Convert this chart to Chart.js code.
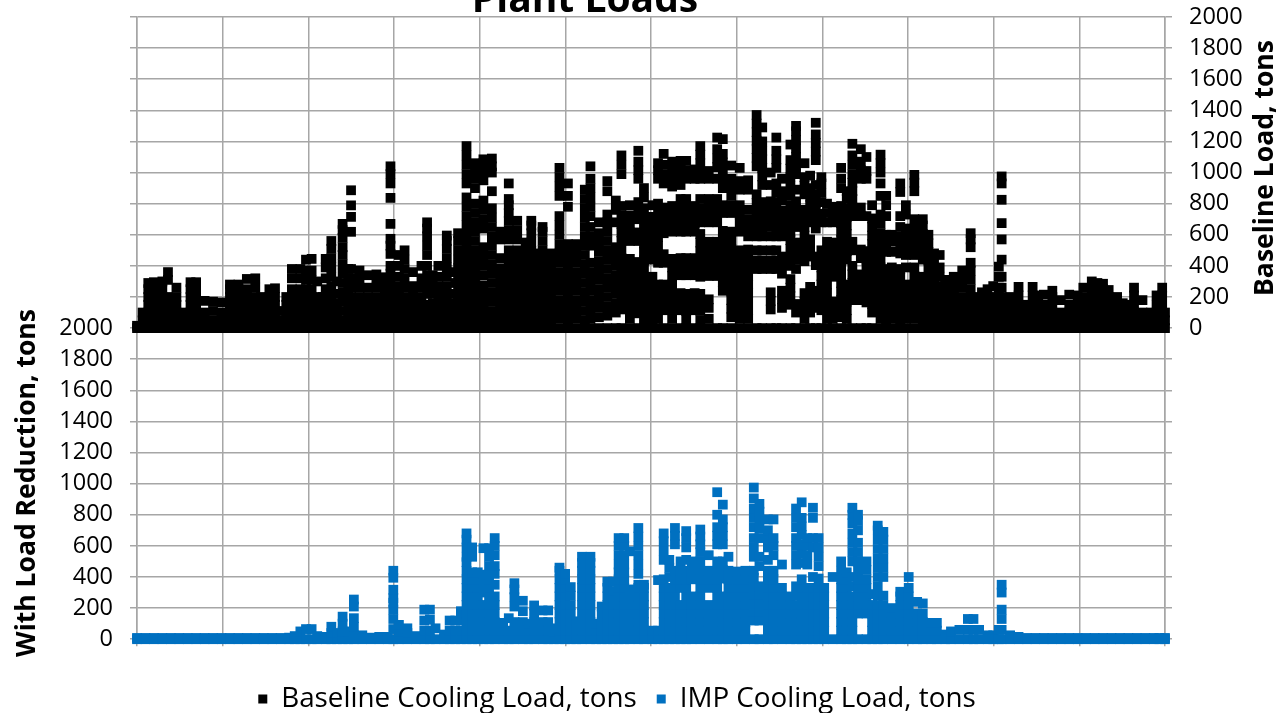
<!DOCTYPE html>
<html>
<head>
<meta charset="utf-8">
<title>Plant Loads</title>
<script src="https://cdn.jsdelivr.net/npm/chart.js@4"></script>
<style>
    html, body { margin: 0; padding: 0; background: #fff; overflow: hidden; }
    canvas { display: block; }
</style>
</head>
<body>
<canvas id="plantChart" width="1278" height="713"></canvas>
<script>
// every row is [day of year, load, load, ...]
const baselineLoads = [
[0,0,15],[2,0,50,100],[4,0,50,100,150,200,250,290],[6,0,50,100,150,200,250,295],[9,0,50,100,150,200,250,300],
[11,0,50,100,150,200,310,360],[14,0,50,100,150,200,260],[16,0,50,100],[19,0,50,100,150,200,250,295],[21,0,50,100,150,200,250,295],
[24,0,50,100,175],[27,0,50,110,170],[30,0,50,100,165],[33,0,50,100,150,200,250,280],[36,0,50,100,150,200,250,280],
[39,0,50,100,150,200,250,316],[42,0,50,100,150,200,260,320],[44,0,50,100,150,200],[47,0,50,100,150,200,250],[49,0,50,100,150,200,256],
[51,0,50,110],[53,0,50,100,150,200],[55,0,50,100,150,200,250,320,380],[58,0,50,100,150,200,250,320,380],[60,0,50,100,150,200,250,310,370,440],
[62,0,50,100,150,200,250,310,370,445],[64,0,50,100,150,200,300],[66,0,50,100,150,200],[67,0,50,100,150,200,250,320,390,445],[69,0,50,100,150,210,270,330,390,450,510,560],
[71,0,50,100,160,220,300],[73,0,50,110,170,230,290,350,410,470,520,580,630,670],[75,0,50,100,150,200,260,320,380],[76,0,50,100,150,200,260,320,380,619,715,789,886],
[79,0,50,100,150,200,260,320,370],[82,0,50,100,150,200,260,340],[85,0,50,100,150,200,260,320,345],[88,0,50,100,150,210,270,327],
[90,0,50,100,150,200,250,300,350,400,477,530,574,670,837,930,990,1040],[93,0,50,100,150,210,270,330,400,470],[95,0,50,100,150,200,260,320,380,440,500],[98,0,50,100,150,210,270,360],
[101,0,50,100,150,200,260,320,400],[103,0,50,100,150,220,280,340,400,470,530,590,640,680],[105,0,50,100,160,220,280,340],[107,0,50,100,150,210,270,330,400],
[110,0,50,100,150,210,270,330,390,450,510,560,595],[113,0,50,100,160,220,290,360],[114,0,55,110,165,220,275,330,385,440,500,560,610],
[117,0,55,110,165,220,275,330,385,440,495,550,600,660,720,780,840,930,990,1050,1110,1170],[120,0,55,110,165,220,275,330,385,440,500,560,620,680,740,800,900,960,1010,1060],
[123,0,55,110,165,220,275,340,400,460,520,640,700,760,820,950,1000,1060,1085],[126,0,55,110,170,230,290,350,410,470,530,590,650,710,770,880,1000,1040,1090],
[129,0,55,110,165,220,275,330,385,450,570,620],[132,0,55,110,165,220,275,330,385,440,500,570,630,690,740,790,830,930],[135,0,55,110,165,220,275,330,385,440,500,570,630,690],
[138,0,55,110,165,220,275,330,385,440,495,550],[140,0,55,110,165,220,275,330,385,440,495,550,610,660,690],[142,0,55,110,165,220,275,330,385,440,480],[144,0,55,110,165,220,275,330,385,440,500,560,620,650],
[147,0,55,110,165,220,275,330,385,440,480],[150,0,60,120,180,240,300,360,420,480,540,600,660,720,850,910,970,1030],[153,0,55,110,165,220,275,330,385,440,480,540,780,850,930],
[156,0,60,120,180,240,300,360,420,480,540],[159,0,50,110,170,230,290,350,410,470,530,590,650,710,770,830,890],[161,0,60,120,180,240,300,360,420,530,590,650,720,780,840,900,960,1040],
[164,0,70,130,190,250,310,370,430,490,550,610,680],[167,0,80,140,200,260,320,380,440,500,560,620,680,730,880,945],[170,0,100,160,220,280,340,400,460,520,680,760,820],
[172,0,120,175,230,285,340,395,450,505,560,615,670,725,785,990,1050,1110],[175,0,60,115,170,225,280,335,390,445,560,615,670,725,790],
[178,0,95,150,205,260,315,370,425,560,615,700,755,810,960,1015,1070,1140],[180,0,50,105,160,215,270,325,380,435,490,545,600,655,710,770,840,900],
[183,0,55,110,165,220,275,330,440,495,550,605,660,715,790],[185,0,60,115,170,225,280,420,475,530,585,640,695,750,800,960,1015,1060],
[187,0,115,170,225,280,420,475,610,665,720,775,930,990,1050,1120],[190,0,60,115,170,225,280,335,390,445,620,675,730,785,910,965,1020,1070],
[193,0,115,170,225,340,395,450,620,675,730,785,830,920,975,1030,1075],[195,0,55,110,165,220,340,395,450,620,675,730,775,830,960,1015,1075],
[198,0,115,170,225,340,395,450,620,675,730,785,960,1020],[200,0,50,110,165,220,330,385,440,495,550,605,680,715,770,830,960,1005,1060,1115,1170],
[203,0,60,130,185,335,390,445,500,555,680,735,790,830,960,1010],[206,0,335,390,445,500,555,680,735,790,830,960,1035,1090,1150,1225],
[208,0,240,295,350,405,460,515,570,625,740,790,900,955,1010,1065,1120,1215],[211,0,70,125,180,235,290,345,400,455,510,565,620,740,790,850,905,960,1045],
[214,0,60,115,170,225,280,335,390,445,500,620,675,730,790,890,945,1030],[217,0,60,115,170,225,280,335,390,450,505,590,645,700,760,890,950],
[220,0,380,435,500,590,645,700,750,805,860,1040,1095,1150,1205,1260,1315,1370],[222,0,380,435,500,590,640,695,750,810,920,975,1030,1085,1140,1200,1290],
[225,0,120,175,230,380,435,500,590,650,705,760,815,920,1000],[227,0,380,435,500,590,645,700,755,810,870,930,1030,1085,1140,1225],
[229,0,130,185,240,350,405,460,590,645,700,755,820,880,960],[232,0,150,205,260,315,400,455,510,565,620,675,730,790,850,910,970,1025,1080,1180],
[234,0,100,155,380,440,495,550,650,705,760,815,890,990,1045,1100,1155,1210,1265,1300],[237,0,60,115,170,225,430,485,540,595,650,705,760,860,915,970,1060],
[239,0,100,155,210,265,460,515,570,680,735,790,845,900,980],[241,0,130,185,240,405,460,640,695,750,805,860,920,1080,1135,1190,1245,1320],
[243,0,115,170,225,280,335,390,445,500,680,735,810,870,930,970],[245,0,60,115,170,225,280,335,390,445,500,555,680,740,800],
[247,0,60,115,170,330,385,440,495,550,680,735,780],[250,0,70,125,180,235,290,345,400,455,510,565,620,675,730,785,900,960,1030],
[252,0,60,115,170,225,280,440,495,550,605,660,715,770,830,880],[254,0,180,235,290,345,400,500,555,720,775,830,880,935,990,1050,1110,1185],
[257,0,180,235,290,345,450,505,720,775,960,1015,1070,1150],[259,0,165,220,275,330,385,440,495,720,960,1010,1100],
[261,0,100,155,210,265,320,375,430,485,540,595,650,705,790],[264,0,60,115,170,225,280,335,390,445,500,555,610,670,730,850,930,1000,1060,1115],
[266,0,50,105,160,215,270,325,380,490,545,600,720,790,850],[268,0,60,115,170,225,280,335,390,490,555,600],[271,0,50,105,160,215,270,325,380,480,535,590,650,720,875,930],
[273,0,60,115,170,225,280,390,470,525,580,640,730,790],[276,0,60,115,170,225,280,335,390,470,525,580,640,700,880,935,985],[279,0,55,110,165,220,275,330,440,495,550,605,660,700],
[281,0,50,105,160,215,270,325,380,435,490,545,600],[283,0,50,105,160,215,270,325,380,435,480],[285,0,50,105,160,215,270,330,390,470],[287,0,50,105,160,215,270,310],
[290,0,50,100,150,200,250,300,330],[293,0,50,100,150,200,260,320,370],[296,0,50,100,150,200,250,310,370,420,520,570,610],[298,0,50,100,150,200],[300,0,50,100,150,200,230],
[302,0,50,100,150,200,250],[304,0,50,100,150,200,270],[306,0,50,100,150,200,260,330,395],[307,0,50,100,150,200,260,330,440,570,675,825,930,975],[310,0,50,100,150,200],
[313,0,50,100,150,210,265],[316,0,50,100,150],[318,0,50,100,150,210,265],[320,0,50,100,150,210],[322,0,50,100,150,215],[325,0,50,100,150,200,240],[328,0,50,100,180],
[331,0,50,100,150,215],[334,0,50,100,150,210],[336,0,50,100,150,200,260],[339,0,50,100,150,200,250,300],[341,0,50,100,150,200,250,290],[343,0,50,100,150,200,250,285],[345,0,50,100,150,200,245],
[348,0,50,100,150,200],[350,0,50,100,160],[352,0,50,100,150],[354,0,50,100,150,210,260],[357,0,50,100,180],[360,0,50,100],[362,0,50,100,150,210],[364,0,50,100,150,210,260],[365,0,50,100]
];

const impLoads = [
[0,0,8],[3,0,8],[6,0,8],[9,0,8],[12,0,8],[15,0,8],[18,0,8],[21,0,8],[24,0,8],[27,0,8],[30,0,8],[33,0,8],[36,0,8],[39,0,8],[42,0,8],[45,0,8],[48,0,8],[51,0,8],[54,0,10],[56,0,20],
[58,0,50],[60,0,65],[62,0,65],[64,0,20],[67,0,15],[69,0,40,80],[71,0,40],[73,0,50,100,145],[75,0,50],[77,0,25,80,135,210,255],[80,0,25],[83,0,10],[86,0,15],[89,0,15],
[91,0,65,130,190,235,264,318,395,440],[93,0,50,92],[96,0,40,70],[99,0,20],[102,0,55,120,190],[104,0,55,125,190],[106,0,70],[109,0,30],[111,0,55,120],[113,0,55,120],[115,0,55,120,180],
[117,0,55,110,165,220,275,330,385,440,495,530,590,640,680],[119,0,55,110,165,220,275,330,385,430,530,590],[121,0,55,110,165,220,275,330,385,430],[123,0,55,110,165,220,300,360,415,585],[125,0,55,110,165,220,275,330,385,415,470,530,585],
[127,0,55,110,165,220,275,350,420,470,540,600,650],[130,0,55,105],[132,0,55,135],[134,0,55,110,210,270,320,360],[137,0,55,110,180,247],[139,0,55,100],[141,0,55,110,165,217],[144,0,55,110,185],[146,0,55,110,185],[148,0,50,70],
[150,0,55,110,165,220,275,330,385,440,460],[152,0,55,110,165,220,275,330,385,420],[154,0,55,110,165,220,280,335],[156,0,55,115],[158,0,55,110,165,220,275,330,385,440,490,530],[161,0,55,110,165,220,275,330,385,440,490,530],[163,0,55,100],
[165,0,55,110,165,210],[167,0,55,110,165,220,275,330,370],[169,0,55,110,165,220,275,310,370],[171,0,55,110,165,220,275,330,385,430,480,540,600,650],[173,0,55,110,165,220,275,330,385,430,480,540,600,650],[175,0,55,110,165,220,275,320,565],
[178,0,55,110,165,220,275,330,350,420,480,540,600,660,715],[180,0,55,110,165,220,275,330,350],[183,0,55],[185,0,55,380],
[187,0,55,110,165,220,275,330,385,510,570,630,680],[189,0,55,110,165,220,275,330,400,460,510],[191,0,55,110,165,220,275,330,385,440,610,665,715],[193,0,55,110,165,220,330,385,440,500],
[195,0,55,110,165,220,275,330,385,440,510,590,650,695],[197,0,55,110,165,220,275,385,440,500],[200,0,55,110,165,220,275,330,385,440,500,560,610,660,705],[203,0,55,110,165,220,330,385,440,540],
[206,0,55,110,165,220,275,330,385,440,500,610,665,720,800,945],[208,0,55,110,165,220,275,390,445,500,610,665,720,770,865],[210,0,55,110,165,220,275,330,385,440,530],[213,0,55,110,165,220,275,330,385,435],
[216,0,55,110,165,220,275,330,385,440],[219,0,120,175,230,285,340,395,440,530,590,650,720,780,840,905,975],[221,0,120,175,230,285,340,470,530,650,710,770,820,870],[224,0,55,110,165,220,275,330,385,440,510,590,640,700,770],
[226,0,55,110,165,220,275,330,385,440,540,600,650,770],[229,0,55,110,165,220,275,330,480],[232,0,55,110,165,220,275],[234,0,55,110,165,220,280,340,480,540,600,650,720,780,840],
[236,0,55,110,165,220,275,330,385,490,550,610,670,725,780,880],[238,0,55,110,165,220,275,330,480,540,600,650],[240,0,55,110,165,220,275,330,400,590,650,780,845],[242,0,55,110,165,220,275,330,390,470,530,590,650],
[244,0,55,110,165,220,275,330],[247,0,400],[250,0,55,110,165,220,275,330,385,440,500],[252,0,55,110,165,220,275,330,385,430],
[254,0,55,110,165,220,275,340,400,500,560,620,680,745,800,845],[256,0,165,220,275,330,385,440,500,560,620,700,760,800],[259,0,165,220,275,330,385,445,500],[261,0,55,110,165,220,290],
[263,0,55,110,165,220,280,340,400,460,520,580,640,700,730],[265,0,55,110,165,220,280,400,460,520,580,640,690],[268,0,55,110,165,200],[271,0,55,110,165,220,275,305],[274,0,55,110,165,220,275,330,400],[277,0,55,110,165,240],
[279,0,55,110,165,230],[282,0,55,105],[284,0,55,105],[287,0,30],[289,0,50],[292,0,60],[295,0,60,130],[297,0,60,130],[299,0,60],[302,0,25],[304,0,25],[306,0,60],[307,0,60,130,190,300,350],
[310,0,25],[313,0,15],[316,0,8],[319,0,8],[322,0,8],[325,0,8],[328,0,8],[331,0,8],[334,0,8],[337,0,8],[340,0,8],[343,0,8],[346,0,8],[349,0,8],[352,0,8],[355,0,8],[358,0,8],[361,0,8],[363,0,8],[365,0,8]
];

const seriesNames = ["Baseline Cooling Load, tons", "IMP Cooling Load, tons"];
const hoursPerDay = 24;
const fontName = "'Open Sans', 'Noto Sans', sans-serif";
const gridColor = "#a6a6a6";

// turn [day, load, load...] rows into points
function toPoints(rows) {
    let points = [];
    rows.forEach(function (row) {
        row.slice(1).forEach(function (load) {
            points.push({ x: row[0] * hoursPerDay, y: load });
        });
    });
    return points;
}

// title and axis names sit off-centre in the original, so they are placed by hand
const chartText = {
    id: "chartText",
    afterLayout(chart) {
        // the legend is centred left of the canvas middle
        chart.legend.right -= 44;
    },
    afterDraw(chart) {
        const ctx = chart.ctx;
        ctx.save();
        ctx.fillStyle = "#000";
        ctx.textAlign = "center";
        ctx.textBaseline = "alphabetic";
        ctx.font = "bold 39px " + fontName;
        ctx.fillText("Plant Loads", 585, 12);

        ctx.font = "bold 26.5px " + fontName;
        ctx.translate(35, 483);
        ctx.rotate(-Math.PI / 2);
        ctx.fillText("With Load Reduction, tons", 0, 0);
        ctx.rotate(Math.PI / 2);
        ctx.translate(-35, -483);

        ctx.translate(1273, 168);
        ctx.rotate(-Math.PI / 2);
        ctx.fillText("Baseline Load, tons", 0, 0);
        ctx.restore();
    }
};

// the axes fill their boxes exactly, no room kept for half a tick label
function fitAxis(scale, width) {
    scale.width = width;
    scale.paddingTop = 0;
    scale.paddingBottom = 0;
}

new Chart(document.getElementById("plantChart"), {
    type: "scatter",
    data: {
        datasets: [
            {
                label: seriesNames[0],
                data: toPoints(baselineLoads),
                yAxisID: "yRight",
                backgroundColor: "#000",
                pointStyle: "rect",
                pointRadius: 6.9,
                borderWidth: 0,
                clip: false
            },
            {
                label: seriesNames[1],
                data: toPoints(impLoads),
                yAxisID: "yLeft",
                backgroundColor: "#0070c0",
                pointStyle: "rect",
                pointRadius: 6.9,
                borderWidth: 0,
                clip: false
            }
        ]
    },
    options: {
        responsive: false,
        animation: false,
        layout: { padding: { top: 17, bottom: -10 } },
        plugins: {
            tooltip: { enabled: false },
            legend: {
                position: "bottom",
                labels: {
                    color: "#000",
                    font: { family: fontName, size: 27.8 },
                    usePointStyle: true,
                    boxHeight: 9,
                    pointStyleWidth: 9,
                    padding: 20
                }
            }
        },
        scales: {
            x: {
                type: "linear",
                min: 0,
                max: 8760,
                border: { color: gridColor, width: 1.5 },
                grid: { color: gridColor, lineWidth: 1.5, tickLength: 7 },
                ticks: { stepSize: 730, autoSkip: false, maxRotation: 0, callback: () => "" },
                afterFit(scale) {
                    scale.height = 26;
                    scale.paddingLeft = 0;
                    scale.paddingRight = 0;
                }
            },
            yLeft: {
                position: "left",
                min: 0,
                max: 4000,
                border: { color: gridColor, width: 1.5 },
                grid: { color: gridColor, lineWidth: 1.5, tickLength: 7 },
                ticks: {
                    stepSize: 200,
                    autoSkip: false,
                    padding: 17,
                    color: "#000",
                    font: { family: fontName, size: 23.5 },
                    callback: (value) => (value <= 2000 ? value : "")
                },
                afterFit(scale) { fitAxis(scale, 137); }
            },
            yRight: {
                position: "right",
                min: -2000,
                max: 2000,
                border: { color: gridColor, width: 1.5 },
                grid: { color: gridColor, lineWidth: 1.5, tickLength: 7, drawOnChartArea: false },
                ticks: {
                    stepSize: 200,
                    autoSkip: false,
                    padding: 17,
                    color: "#000",
                    font: { family: fontName, size: 23.5 },
                    callback: (value) => (value >= 0 ? value : "")
                },
                afterFit(scale) { fitAxis(scale, 113); }
            }
        }
    },
    plugins: [chartText]
});
</script>
</body>
</html>
